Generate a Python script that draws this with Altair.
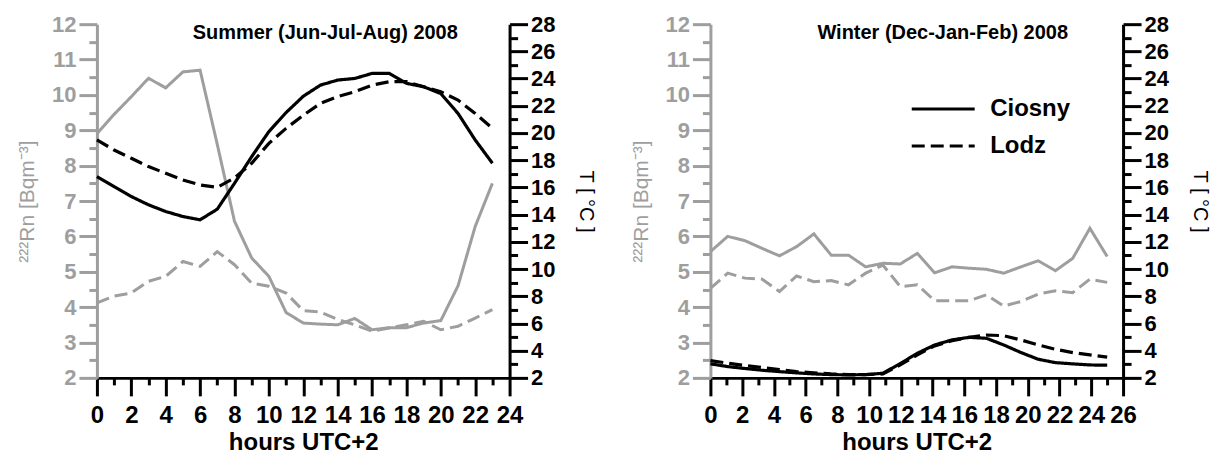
import altair as alt
import pandas as pd

# ---------------- data ----------------
hours_summer = list(range(24))
rn_ciosny_summer = [8.9, 9.45, 9.95, 10.47, 10.2, 10.65, 10.7, 8.6, 6.43, 5.39, 4.87, 3.85,
                    3.55, 3.52, 3.5, 3.68, 3.36, 3.42, 3.42, 3.55, 3.62, 4.6, 6.28, 7.5]
rn_lodz_summer = [4.12, 4.31, 4.4, 4.73, 4.87, 5.29, 5.15, 5.57, 5.2, 4.68, 4.59, 4.4,
                  3.9, 3.86, 3.65, 3.5, 3.32, 3.41, 3.5, 3.6, 3.36, 3.46, 3.69, 3.93]
t_ciosny_summer = [16.8, 16.06, 15.33, 14.72, 14.23, 13.86, 13.62, 14.4, 16.3, 18.26, 20.1, 21.5,
                   22.7, 23.52, 23.89, 24.01, 24.38, 24.38, 23.65, 23.4, 22.9, 21.44, 19.49, 17.78]
t_lodz_summer = [19.49, 18.75, 18.14, 17.53, 17.04, 16.55, 16.18, 16.0, 16.7, 17.77, 19.24, 20.34,
                 21.3, 22.18, 22.67, 23.03, 23.52, 23.77, 23.77, 23.4, 23.03, 22.42, 21.44, 20.34]

hours_winter = [0, 1.09, 2.17, 3.26, 4.35, 5.43, 6.52, 7.61, 8.7, 9.78, 10.87, 11.96,
                13.04, 14.13, 15.22, 16.3, 17.39, 18.48, 19.57, 20.65, 21.74, 22.83, 23.91, 25.0]
rn_ciosny_winter = [5.57, 6.0, 5.88, 5.66, 5.45, 5.71, 6.07, 5.47, 5.47, 5.14, 5.24, 5.22,
                    5.52, 4.97, 5.14, 5.10, 5.07, 4.96, 5.14, 5.31, 5.03, 5.38, 6.23, 5.43]
rn_lodz_winter = [4.53, 4.96, 4.82, 4.79, 4.44, 4.88, 4.72, 4.75, 4.63, 4.96, 5.19, 4.58,
                  4.63, 4.18, 4.18, 4.18, 4.35, 4.03, 4.16, 4.37, 4.46, 4.41, 4.79, 4.70]
t_ciosny_winter = [3.03, 2.83, 2.69, 2.56, 2.46, 2.37, 2.29, 2.24, 2.22, 2.24, 2.34, 3.05,
                   3.81, 4.42, 4.79, 4.98, 4.91, 4.42, 3.86, 3.37, 3.12, 3.03, 2.95, 2.93]
t_lodz_winter = [3.27, 3.08, 2.91, 2.76, 2.61, 2.46, 2.37, 2.29, 2.24, 2.24, 2.29, 2.95,
                 3.69, 4.35, 4.74, 4.98, 5.15, 5.1, 4.79, 4.42, 4.1, 3.86, 3.69, 3.52]

stations = ["Ciosny", "Lodz"]
titles = ["Summer (Jun-Jul-Aug) 2008", "Winter (Dec-Jan-Feb) 2008"]

rn_major = list(range(2, 13))
rn_minor = [v + 0.5 for v in range(2, 12)]
t_major = list(range(2, 29, 2))
t_minor = list(range(3, 28, 2))

# ---------------- style ----------------
GRAY = "#9e9e9e"
FONT = "Liberation Sans Narrow, Liberation Sans, Arial"
YFONT = "Liberation Sans, Arial"
W, H = 413, 354


def long_df(hours, a, b, name):
    return pd.DataFrame({
        "hour": list(hours) * 2,
        "station": [stations[0]] * len(a) + [stations[1]] * len(b),
        name: list(a) + list(b),
    })


def panel(hours, rn_c, rn_l, t_c, t_l, xmax, title, dx, legend):
    rn_df = long_df(hours, rn_c, rn_l, "rn")
    t_df = long_df(hours, t_c, t_l, "t")
    x_scale = alt.Scale(domain=[0, xmax], nice=False, zero=False)

    x_major = alt.Axis(
        orient="bottom",
        values=list(range(0, xmax + 1, 2)), format="d",
        title="hours UTC+2",
        domainColor="black", domainWidth=3,
        tickColor="black", tickWidth=3, tickSize=18,
        labelColor="black", labelFont=FONT, labelFontSize=24, labelFontWeight="bold",
        labelPadding=8, labelOverlap=False, labelFlush=False,
        titleFont=FONT, titleFontSize=24, titleFontWeight="bold", titleColor="black",
        titleY=72, titleBaseline="alphabetic",
        grid=False,
    )
    x_minor = alt.Axis(
        orient="bottom",
        values=list(range(1, xmax, 2)), labels=False, domain=False,
        tickColor="black", tickWidth=3, tickSize=7, title=None, grid=False,
    )

    dash_scale = alt.Scale(domain=stations, range=[[1, 0], [13, 6]])
    if legend:
        leg = alt.Legend(
            title=None, orient="none", legendX=200, legendY=73,
            symbolType="stroke", symbolSize=3969, symbolStrokeWidth=3,
            symbolStrokeColor="black", labelFont=FONT, labelFontSize=24,
            labelFontWeight="bold", labelColor="black", labelOffset=14,
            clipHeight=24, rowPadding=13, padding=0,
        )
    else:
        leg = None
    dash = alt.StrokeDash("station:N", scale=dash_scale, legend=leg)

    rn_scale = alt.Scale(domain=[2, 12], nice=False, zero=False)
    t_scale = alt.Scale(domain=[2, 28], nice=False, zero=False)

    y_rn = alt.Y("rn:Q", scale=rn_scale, axis=alt.Axis(
        orient="left", values=rn_major, format="d",
        domainColor=GRAY, domainWidth=3, tickColor=GRAY, tickWidth=3, tickSize=18,
        labelColor=GRAY, labelFont=YFONT, labelFontSize=22, labelFontWeight="bold",
        labelPadding=3, labelOverlap=False, labelFlush=False,
        title="²²²Rn [Bqm⁻³]", titleColor=GRAY, titleFont=YFONT, titleFontSize=21,
        titleFontWeight="normal", titleAngle=-90, titleX=-69, titleY=H / 2,
        titleAlign="center", titleBaseline="middle", grid=False,
    ))
    y_rn_minor = alt.Y("rn:Q", scale=rn_scale, axis=alt.Axis(
        orient="left", values=rn_minor, labels=False, domain=False,
        tickColor=GRAY, tickWidth=3, tickSize=8, title=None, grid=False,
    ))
    y_t = alt.Y("t:Q", scale=t_scale, axis=alt.Axis(
        orient="right", values=t_major, format="d",
        domainColor="black", domainWidth=3, tickColor="black", tickWidth=3, tickSize=18,
        labelColor="black", labelFont=YFONT, labelFontSize=22, labelFontWeight="bold",
        labelPadding=3, labelOverlap=False, labelFlush=False,
        title="T [ °C ]", titleColor="black", titleFont=YFONT, titleFontSize=20,
        titleFontWeight="normal", titleAngle=90, titleX=76, titleY=H / 2,
        titleAlign="center", titleBaseline="middle", grid=False,
    ))
    y_t_minor = alt.Y("t:Q", scale=t_scale, axis=alt.Axis(
        orient="right", values=t_minor, labels=False, domain=False,
        tickColor="black", tickWidth=3, tickSize=8, title=None, grid=False,
    ))

    rn_layer = alt.Chart(rn_df).mark_line(color=GRAY, strokeWidth=3).encode(
        x=alt.X("hour:Q", scale=x_scale, axis=x_major), y=y_rn, strokeDash=dash)
    rn_minor_layer = alt.Chart(rn_df).mark_line(opacity=0).encode(
        x=alt.X("hour:Q", scale=x_scale, axis=x_minor), y=y_rn_minor, detail="station:N")
    t_layer = alt.Chart(t_df).mark_line(color="black", strokeWidth=3.2).encode(
        x=alt.X("hour:Q", scale=x_scale, axis=None), y=y_t, strokeDash=dash)
    t_minor_layer = alt.Chart(t_df).mark_line(opacity=0).encode(
        x=alt.X("hour:Q", scale=x_scale, axis=None), y=y_t_minor, detail="station:N")

    return alt.layer(rn_minor_layer, rn_layer, t_minor_layer, t_layer).resolve_scale(
        y="independent"
    ).resolve_axis(x="independent", y="independent").properties(
        width=W, height=H,
        title=alt.TitleParams(
            text=title, anchor="middle", dx=dx, dy=-2, offset=-48, baseline="alphabetic",
            font=FONT, fontSize=20, fontWeight="bold", color="black",
        ),
    )


summer = panel(hours_summer, rn_ciosny_summer, rn_lodz_summer, t_ciosny_summer, t_lodz_summer,
               24, titles[0], 22, False)
winter = panel(hours_winter, rn_ciosny_winter, rn_lodz_winter, t_ciosny_winter, t_lodz_winter,
               26, titles[1], 26, True)

chart = alt.hconcat(summer, winter, spacing=201, bounds="flush").resolve_legend(
    strokeDash="independent"
).resolve_scale(strokeDash="independent").properties(
    padding={"left": 17, "top": 13, "right": 4, "bottom": 0}
).configure_view(stroke=None)

chart.save("out.html", embed_options={"renderer": "svg", "actions": False})
